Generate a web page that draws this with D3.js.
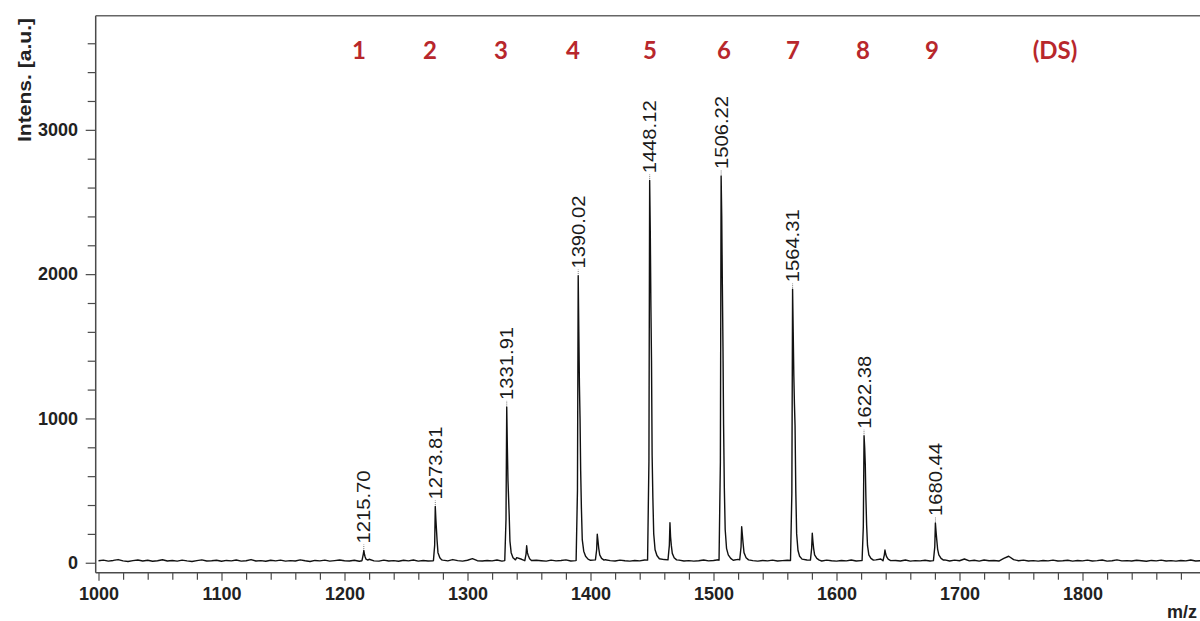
<!DOCTYPE html>
<html>
<head>
<meta charset="utf-8">
<script src="https://cdn.jsdelivr.net/npm/d3@7"></script>
<style>
  html, body { margin: 0; padding: 0; background: #fff; }
  svg { display: block; }
</style>
</head>
<body>
<svg id="chart" width="1200" height="621"></svg>
<script>
// ---------------- data ----------------
// baseline noise, m/z = 1000 + 4*i
const baselineStart = 1000;
const baselineStep = 4;
const baselineValues = [
  14,18,11,16,22,13,9,15,19,12,
  17,10,14,21,12,16,11,18,13,9,
  15,20,12,14,17,10,16,13,19,11,
  14,22,12,15,10,17,13,18,11,15,
  12,20,14,9,16,13,18,11,15,19,
  14,12,17,10,16,24,13,11,18,12,
  15,10,17,13,19,11,16,12,14,20,
  18,13,22,15,11,17,28,14,12,16,
  13,19,11,15,18,35,24,16,12,17,
  14,11,18,13,16,20,12,15,18,14,
  17,22,30,21,15,12,18,14,11,16,
  13,19,16,24,35,22,17,13,18,12,
  15,11,14,19,13,16,21,12,14,17,
  23,32,20,15,11,16,13,18,12,15,
  17,14,24,30,19,13,16,12,18,14,
  11,16,13,19,12,15,17,14,20,26,
  18,13,16,12,19,11,15,13,17,12,
  28,16,20,12,18,14,26,13,17,11,
  19,14,16,12,30,45,22,14,18,12,
  15,11,16,13,18,12,14,17,11,16,
  13,18,12,15,19,11,14,20,13,15,
  12,17,14,10,16,13,18,12,15,11,
  16,13,19,12,14,17
];

// peak clusters: [m/z, intensity]
const peak1215 = [[1214.2,14],[1215.3,60],[1215.7,85],[1216.3,55],[1216.8,40],[1217.5,25],[1219,18]];
const peak1273 = [[1272.3,15],[1273.3,120],[1273.8,390],[1274.3,300],[1274.8,225],[1275.3,150],[1276,70],[1277.5,35],[1279,20]];
const peak1331 = [[1330.3,15],[1331.3,300],[1331.9,1080],[1332.4,800],[1332.9,570],[1333.4,450],[1333.9,330],[1334.5,150],[1335.5,70],[1337,35],[1339,20]];
const peak1348 = [[1346.6,14],[1347.6,60],[1348.1,118],[1348.7,70],[1349.4,50],[1350.5,28],[1352,16]];
const peak1390 = [[1388.3,16],[1389.4,500],[1390.0,1990],[1390.5,1600],[1391.0,1230],[1391.5,1000],[1392,640],[1392.6,380],[1393.3,160],[1394.5,80],[1396,45],[1398,25]];
const peak1406 = [[1404,20],[1405,90],[1405.5,197],[1406.1,150],[1406.7,100],[1407.5,55],[1409,30],[1411,18]];
const peak1448 = [[1446.4,18],[1447.5,700],[1448.1,2650],[1448.6,2300],[1449.1,1785],[1449.6,1400],[1450.1,745],[1450.7,450],[1451.4,200],[1452.5,90],[1454,50],[1456,28]];
const peak1464 = [[1463,20],[1464.1,120],[1464.6,277],[1465.1,180],[1465.7,120],[1466.5,65],[1468,35],[1470,20]];
const peak1506 = [[1504.5,18],[1505.6,700],[1506.2,2680],[1506.7,2400],[1507.2,1925],[1507.7,1500],[1508.2,955],[1508.8,520],[1509.5,230],[1510.6,100],[1512,55],[1514,30]];
const peak1522 = [[1521.3,20],[1522.4,110],[1522.9,250],[1523.4,200],[1524,140],[1524.8,70],[1526.5,35],[1528.5,20]];
const peak1564 = [[1562.6,16],[1563.7,480],[1564.3,1895],[1564.8,1600],[1565.3,1300],[1565.8,1100],[1566.3,950],[1566.9,500],[1567.6,200],[1568.7,85],[1570,45],[1572,25]];
const peak1580 = [[1578.8,18],[1579.8,100],[1580.3,204],[1580.8,150],[1581.4,100],[1582.2,55],[1584,30],[1586,18]];
const peak1622 = [[1620.8,15],[1621.8,250],[1622.4,880],[1622.9,800],[1623.4,680],[1623.9,450],[1624.5,260],[1625.2,120],[1626.3,55],[1628,30],[1630,18]];
const peak1639 = [[1637.8,14],[1638.9,55],[1639.4,88],[1640,60],[1640.8,40],[1642,25],[1644,15]];
const peak1680 = [[1678.8,15],[1679.9,110],[1680.4,275],[1680.9,220],[1681.5,160],[1682.2,95],[1683.2,55],[1685,30],[1687,18]];
const peakClusters = [peak1215, peak1273, peak1331, peak1348, peak1390, peak1406, peak1448, peak1464,
                      peak1506, peak1522, peak1564, peak1580, peak1622, peak1639, peak1680];

// annotated peaks
const peakLabels = ["1215.70","1273.81","1331.91","1390.02","1448.12","1506.22","1564.31","1622.38","1680.44"];
const peakLabelMz = [1215.70, 1273.81, 1331.91, 1390.02, 1448.12, 1506.22, 1564.31, 1622.38, 1680.44];
const peakLabelInt = [85, 390, 1080, 1990, 2650, 2680, 1895, 880, 275];

// red series labels
const seriesLabels = ["1","2","3","4","5","6","7","8","9","(DS)"];
const seriesLabelMz = [1211.8, 1269.5, 1327.2, 1385.8, 1448.4, 1508.5, 1564.6, 1621.5, 1677.6, 1777.6];

// axis ticks
const xMajorTicks = [1000,1100,1200,1300,1400,1500,1600,1700,1800];
const xMinorTicks = [1020,1040,1060,1080,1120,1140,1160,1180,1220,1240,1260,1280,1320,1340,1360,1380,
                     1420,1440,1460,1480,1520,1540,1560,1580,1620,1640,1660,1680,1720,1740,1760,1780,
                     1820,1840,1860,1880];
const yMajorTicks = [0,1000,2000,3000];
const yMinorTicks = [200,400,600,800,1200,1400,1600,1800,2200,2400,2600,2800,3200,3400,3600];

// ---------------- build spectrum ----------------
const clusterRanges = peakClusters.map(c => [c[0][0], c[c.length-1][0]]);
const spectrum = [];
baselineValues.forEach((v, i) => {
  const mz = baselineStart + i * baselineStep;
  if (!clusterRanges.some(r => mz >= r[0] && mz <= r[1])) spectrum.push([mz, v]);
});
peakClusters.forEach(c => c.forEach(p => spectrum.push(p)));
spectrum.sort((a, b) => a[0] - b[0]);

// ---------------- layout ----------------
const svg = d3.select("#chart");
const plotLeft = 95.7, plotTop = 15.7, plotBottom = 572.7, plotRight = 1200;

const x = d3.scaleLinear().domain([1000, 1900]).range([98.5, 1205.5]);
const y = d3.scaleLinear().domain([-69, 3791]).range([plotBottom, plotTop]);

svg.append("defs").append("clipPath").attr("id", "plotclip")
  .append("rect").attr("x", plotLeft).attr("y", plotTop)
  .attr("width", plotRight - plotLeft + 10).attr("height", plotBottom - plotTop);

// axes
const axisColor = "#4a4a4a";
const tickFont = "'Liberation Sans', Arial, sans-serif";

const gx = svg.append("g").attr("transform", `translate(0,${plotBottom})`)
  .call(d3.axisBottom(x).tickValues(xMajorTicks).tickSize(8).tickPadding(6.5).tickFormat(d3.format("d")));
const gxm = svg.append("g").attr("transform", `translate(0,${plotBottom})`)
  .call(d3.axisBottom(x).tickValues(xMinorTicks).tickSize(7).tickFormat(""));
const gy = svg.append("g").attr("transform", `translate(${plotLeft},0)`)
  .call(d3.axisLeft(y).tickValues(yMajorTicks).tickSize(10).tickPadding(7.7).tickFormat(d3.format("d")));
const gym = svg.append("g").attr("transform", `translate(${plotLeft},0)`)
  .call(d3.axisLeft(y).tickValues(yMinorTicks).tickSize(8).tickFormat(""));

[gx, gxm, gy, gym].forEach(g => {
  g.select(".domain").remove();
  g.selectAll("line").attr("stroke", axisColor).attr("stroke-width", 1.2);
  g.selectAll("text").attr("font-family", tickFont).attr("font-size", 18)
    .attr("font-weight", "bold").attr("fill", "#222");
});

// frame
svg.append("line").attr("x1", plotLeft).attr("x2", plotLeft).attr("y1", plotTop).attr("y2", plotBottom)
  .attr("stroke", axisColor).attr("stroke-width", 1.5);
svg.append("line").attr("x1", plotLeft).attr("x2", plotRight).attr("y1", plotTop).attr("y2", plotTop)
  .attr("stroke", "#666").attr("stroke-width", 1.5);
svg.append("line").attr("x1", plotLeft).attr("x2", plotRight).attr("y1", plotBottom).attr("y2", plotBottom)
  .attr("stroke", axisColor).attr("stroke-width", 1.5);

// spectrum
const line = d3.line().x(d => x(d[0])).y(d => y(d[1]));
svg.append("path").datum(spectrum)
  .attr("clip-path", "url(#plotclip)")
  .attr("d", line).attr("fill", "none")
  .attr("stroke", "#111").attr("stroke-width", 1.4).attr("stroke-linejoin", "round");

// peak labels
const pl = svg.append("g");
peakLabels.forEach((t, i) => {
  const px = x(peakLabelMz[i]), py = y(peakLabelInt[i]);
  pl.append("line").attr("x1", px).attr("x2", px).attr("y1", py - 1.5).attr("y2", py - 6)
    .attr("stroke", "#777").attr("stroke-width", 1).attr("stroke-dasharray", "1,1");
  pl.append("text")
    .attr("transform", `translate(${px},${py - 7}) rotate(-90)`)
    .attr("dy", "0.36em")
    .attr("text-anchor", "start")
    .attr("font-family", tickFont).attr("font-size", 18).attr("fill", "#1a1a1a")
    .attr("textLength", 73).attr("lengthAdjust", "spacingAndGlyphs")
    .text(t);
});

// red series labels
svg.append("g").selectAll("text").data(seriesLabels).join("text")
  .attr("x", (d, i) => x(seriesLabelMz[i]))
  .attr("y", 59)
  .attr("text-anchor", "middle")
  .attr("font-family", "Lato, 'Open Sans', sans-serif")
  .attr("font-weight", "bold").attr("font-size", 24)
  .attr("fill", "#b8272c")
  .text(d => d);

// axis titles
svg.append("text")
  .attr("transform", "translate(31,80) rotate(-90)")
  .attr("text-anchor", "middle")
  .attr("font-family", tickFont).attr("font-size", 18).attr("font-weight", "bold")
  .attr("fill", "#222")
  .attr("textLength", 124).attr("lengthAdjust", "spacingAndGlyphs")
  .text("Intens. [a.u.]");

svg.append("text")
  .attr("x", 1167).attr("y", 618)
  .attr("font-family", tickFont).attr("font-size", 18).attr("font-weight", "bold")
  .attr("fill", "#222")
  .text("m/z");
</script>
</body>
</html>
